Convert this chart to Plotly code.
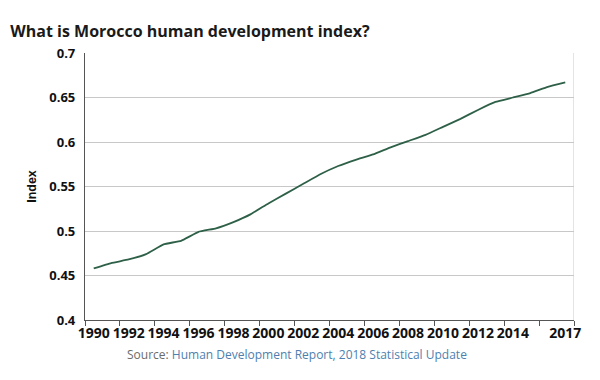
import plotly.graph_objects as go

years = list(range(1990, 2018))
hdi = [0.458, 0.464, 0.468, 0.474, 0.485, 0.489, 0.499, 0.503, 0.510, 0.519,
       0.531, 0.542, 0.553, 0.564, 0.573, 0.580, 0.586, 0.594, 0.601, 0.608,
       0.617, 0.626, 0.636, 0.645, 0.650, 0.655, 0.662, 0.667]
label_years = [1990, 1992, 1994, 1996, 1998, 2000, 2002, 2004, 2006, 2008, 2010, 2012, 2014, 2017]
tick_bounds = [y - 0.5 for y in range(1990, 2019, 2)]
y_ticks = [0.4, 0.45, 0.5, 0.55, 0.6, 0.65, 0.7]
y_text = ["0.4", "0.45", "0.5", "0.55", "0.6", "0.65", "0.7"]

FONT = "Open Sans, sans-serif"

fig = go.Figure()
fig.add_trace(go.Scatter(x=years, y=hdi, mode="lines",
                         line=dict(color="#2e6048", width=1.8, shape="spline", smoothing=0.3),
                         hoverinfo="skip", showlegend=False))

fig.update_layout(
    width=592, height=372,
    margin=dict(l=77, r=26, t=45, b=60),
    paper_bgcolor="white", plot_bgcolor="white",
    font=dict(family=FONT, color="#1a1a1a"),
    title=dict(text="<b>What is Morocco human development index?</b>",
               xref="container", x=0.004, xanchor="left",
               yref="container", y=0.938, yanchor="middle",
               font=dict(size=16, color="#1a1a1a", family=FONT)),
    xaxis=dict(range=[1989.5, 2017.5], tickvals=label_years,
               ticktext=["<b>%d</b>" % y for y in label_years],
               ticks="", showgrid=False, zeroline=False,
               showline=True, linecolor="#555555", linewidth=1.2,
               tickfont=dict(size=14, family=FONT, color="#111111"),
               tickangle=0,
               minor=dict(tickvals=tick_bounds, ticks="outside", ticklen=5,
                          tickcolor="#555555", tickwidth=1, showgrid=False)),
    yaxis=dict(range=[0.4, 0.7], tickvals=y_ticks, ticktext=["<b>%s</b>" % t for t in y_text],
               showgrid=True, gridcolor="#c8c8c8", gridwidth=1, zeroline=False,
               showline=True, linecolor="#555555", linewidth=1.2,
               ticks="", ticklabelstandoff=6,
               tickfont=dict(size=13, family=FONT, color="#111111"),
               title=dict(text="<b>Index</b>", standoff=9,
                          font=dict(size=12.5, family="Liberation Sans Narrow, Arial Narrow, sans-serif",
                                    color="#111111"))),
)

# right border of plot area
fig.add_shape(type="line", xref="x", yref="paper", x0=2017.5, x1=2017.5, y0=0, y1=1,
              line=dict(color="#c8c8c8", width=1))

fig.add_annotation(xref="paper", yref="paper", x=0.4335, y=-0.131, xanchor="center", yanchor="middle",
                   showarrow=False,
                   text="<span style='color:#6b6b6b'>Source: </span>"
                        "<span style='color:#4e7fae'>Human Development Report, 2018 Statistical Update</span>",
                   font=dict(size=12, family=FONT))

fig.write_html("out.html")
